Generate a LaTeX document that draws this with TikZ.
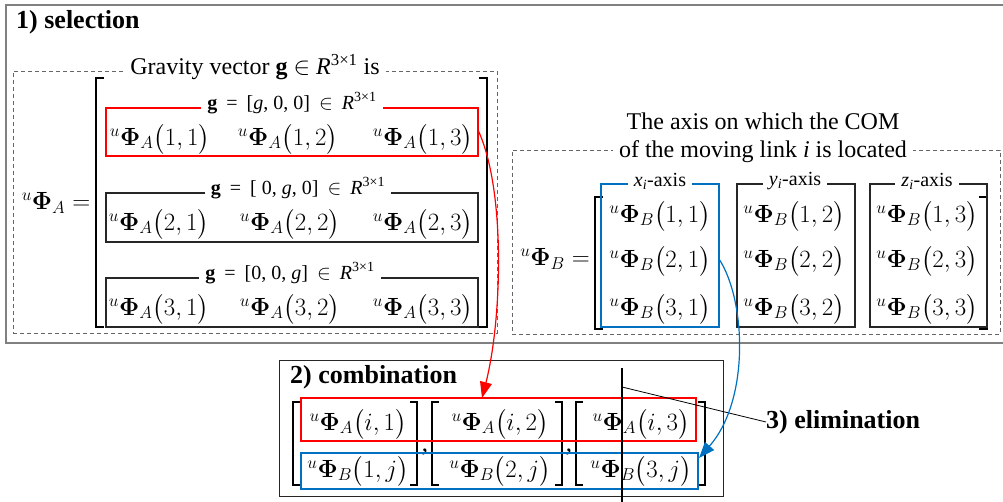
\documentclass[tikz,border=0pt]{standalone}
\usepackage{amsmath}
\usepackage{fontspec}
\setmainfont{Liberation Serif}
\newfontfamily\tnr{Liberation Serif}
\usetikzlibrary{arrows.meta,fit}

\definecolor{selred}{RGB}{255,0,0}
\definecolor{elimblue}{RGB}{0,112,192}
\newcommand{\uPhi}[2]{{}^{u}\boldsymbol{\Phi}_{#1}\bigl(#2\bigr)}
\newcommand{\gvec}[1]{\textbf{g}\hspace{0.45em}=\hspace{0.45em}[#1]\hspace{0.45em}$\in$\hspace{0.45em}\textit{R}\textsuperscript{3×1}}

\begin{document}
\begin{tikzpicture}[
    x=1pt, y=-1pt,
    frame/.style={draw=gray, line width=1.6pt, inner sep=0pt},
    dashbox/.style={draw=gray!80!black, dash pattern=on 4pt off 3pt, line width=0.8pt, inner sep=0pt},
    rowbox/.style={draw=#1, line width=1.1pt, inner sep=0pt},
    rowbox/.default=black!85,
    title/.style={fill=white, inner xsep=6pt, inner ysep=1pt, font=\tnr\fontsize{24}{28}\selectfont},
    subtitle/.style={fill=white, inner xsep=6pt, inner ysep=0pt, font=\tnr\fontsize{20}{22}\selectfont},
    axistitle/.style={fill=white, inner xsep=6pt, inner ysep=0pt, font=\tnr\fontsize{20}{22}\selectfont},
    entry/.style={font=\fontsize{25}{28}\selectfont, inner sep=0pt},
    head/.style={font=\tnr\fontsize{26}{30}\selectfont\bfseries, anchor=west, inner sep=0pt},
    brk/.style={line width=1.4pt},
    link/.style={line width=1.2pt, -{Triangle[length=16pt,width=12pt]}}
]
    \useasboundingbox (0,0) rectangle (1003,502);

    % 1) selection frame
    \node[frame, fit={(6,5) (1012,343)}] (selbox) {};
    \node[head] (selhead) at (16,22) {1) selection};

    % Left part: gravity vector
    \node[dashbox, fit={(13,71) (497,333)}] (gravbox) {};
    \node[title] (gravtitle) at (255,67) {Gravity vector \textbf{g} $\in$ \textit{R}\textsuperscript{3×1} is};
    \node[entry] (phiA) at (56,203) {${}^{u}\boldsymbol{\Phi}_{A}=$};

    \draw[brk] (104,78) -- (96,78) -- (96,327) -- (104,327);
    \draw[brk] (479,78) -- (487,78) -- (487,327) -- (479,327);

    \node[rowbox=selred, fit={(106,108) (478,156)}] (rowA1) {};
    \node[rowbox, fit={(106,193) (478,242)}] (rowA2) {};
    \node[rowbox, fit={(106,278) (478,327)}] (rowA3) {};

    \node[subtitle] (gA1) at (292,103) {\gvec{\textit{g}, 0, 0}};
    \node[subtitle] (gA2) at (298,188) {\gvec{ 0, \textit{g}, 0}};
    \node[subtitle] (gA3) at (290,273) {\gvec{0, 0, \textit{g}}};

    \node[entry] (a11) at (160,139) {$\uPhi{A}{1,1}$};
    \node[entry] (a12) at (288,139) {$\uPhi{A}{1,2}$};
    \node[entry] (a13) at (423,139) {$\uPhi{A}{1,3}$};
    \node[entry] (a21) at (159,224) {$\uPhi{A}{2,1}$};
    \node[entry] (a22) at (290,224) {$\uPhi{A}{2,2}$};
    \node[entry] (a23) at (423,224) {$\uPhi{A}{2,3}$};
    \node[entry] (a31) at (159,309) {$\uPhi{A}{3,1}$};
    \node[entry] (a32) at (290,309) {$\uPhi{A}{3,2}$};
    \node[entry] (a33) at (423,309) {$\uPhi{A}{3,3}$};

    % Right part: COM axis
    \node[dashbox, fit={(512,150) (1000,334)}] (axisbox) {};
    \node[title, align=center, inner ysep=0pt] (axistitle) at (763,138)
        {The axis on which the COM\\ of the moving link \textit{i} is located};
    \node[entry] (phiB) at (555,259) {${}^{u}\boldsymbol{\Phi}_{B}=$};

    \draw[brk] (603,197) -- (595,197) -- (595,329) -- (603,329);
    \draw[brk] (979,197) -- (987,197) -- (987,329) -- (979,329);

    \node[rowbox=elimblue, fit={(601,184) (719,327)}] (colB1) {};
    \node[rowbox, fit={(737,184) (855,327)}] (colB2) {};
    \node[rowbox, fit={(870,184) (987,327)}] (colB3) {};

    \node[axistitle] (xB) at (660,181) {\textit{x}\textsubscript{\textit{i}}-axis};
    \node[axistitle] (yB) at (795,181) {\textit{y}\textsubscript{\textit{i}}-axis};
    \node[axistitle] (zB) at (927,181) {\textit{z}\textsubscript{\textit{i}}-axis};

    \node[entry] (b11) at (660,216) {$\uPhi{B}{1,1}$};
    \node[entry] (b21) at (660,261) {$\uPhi{B}{2,1}$};
    \node[entry] (b31) at (660,309) {$\uPhi{B}{3,1}$};
    \node[entry] (b12) at (794,216) {$\uPhi{B}{1,2}$};
    \node[entry] (b22) at (794,261) {$\uPhi{B}{2,2}$};
    \node[entry] (b32) at (794,309) {$\uPhi{B}{3,2}$};
    \node[entry] (b13) at (927,216) {$\uPhi{B}{1,3}$};
    \node[entry] (b23) at (927,261) {$\uPhi{B}{2,3}$};
    \node[entry] (b33) at (927,309) {$\uPhi{B}{3,3}$};

    % 2) combination
    \node[rowbox, line width=1pt, fit={(279,360) (723,496)}] (combbox) {};
    \node[head] (combhead) at (290,377) {2) combination};

    \draw[brk] (300,402) -- (293,402) -- (293,485) -- (300,485);
    \draw[brk] (410,402) -- (417,402) -- (417,485) -- (410,485);
    \draw[brk] (439,402) -- (432,402) -- (432,485) -- (439,485);
    \draw[brk] (555,402) -- (562,402) -- (562,485) -- (555,485);
    \draw[brk] (583,402) -- (576,402) -- (576,485) -- (583,485);
    \draw[brk] (698,402) -- (705,402) -- (705,485) -- (698,485);
    \node[entry] (comma1) at (425,452) {,};
    \node[entry] (comma2) at (569,452) {,};

    \node[rowbox=selred, fit={(301,398) (696,441)}] (combA) {};
    \node[rowbox=elimblue, fit={(301,453) (698,489)}] (combB) {};

    \node[entry] (c1) at (358,424) {$\uPhi{A}{i,1}$};
    \node[entry] (c2) at (500,424) {$\uPhi{A}{i,2}$};
    \node[entry] (c3) at (641,424) {$\uPhi{A}{i,3}$};
    \node[entry] (d1) at (358,471) {$\uPhi{B}{1,j}$};
    \node[entry] (d2) at (500,471) {$\uPhi{B}{2,j}$};
    \node[entry] (d3) at (641,471) {$\uPhi{B}{3,j}$};

    % 3) elimination
    \coordinate (cuttop) at (622,368);
    \coordinate (cutbot) at (622,503);
    \coordinate (cutpin) at (622,387);
    \node[head] (elimhead) at (766,422) {3) elimination};
    \draw[line width=1.2pt] (cuttop) -- (cutbot);
    \draw[line width=0.8pt] (cutpin) -- (elimhead.west);

    % Arrows
    \coordinate (redstart) at (478,130);
    \coordinate (redend) at (482,398);
    \coordinate (bluestart) at (719,259);
    \coordinate (blueend) at (699,458);
    \draw[link, selred] (redstart) .. controls (506,190) and (502,320) .. (redend);
    \draw[link, elimblue] (bluestart) .. controls (746,300) and (750,400) .. (blueend);

\end{tikzpicture}
\end{document}
